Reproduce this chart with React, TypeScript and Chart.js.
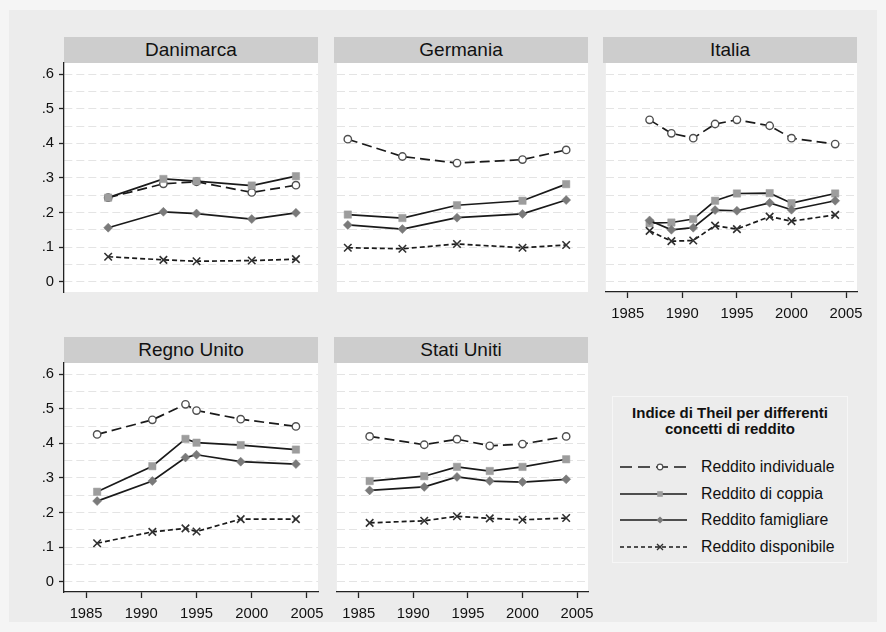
import React, { useEffect, useRef } from 'react';
import { Chart, registerables } from 'chart.js';

Chart.register(...registerables);

// ---- Axes shared by every panel ----
const xTicks = [1985, 1990, 1995, 2000, 2005];
const yTicks = [0, 0.1, 0.2, 0.3, 0.4, 0.5, 0.6];
const yTickLabels = ['0', '.1', '.2', '.3', '.4', '.5', '.6'];

const seriesNames = [
  'Reddito individuale',
  'Reddito di coppia',
  'Reddito famigliare',
  'Reddito disponibile',
];

// ---- Danimarca ----
const dkYears = [1987, 1992, 1995, 2000, 2004];
const dkIndividuale = [0.243, 0.283, 0.289, 0.258, 0.279];
const dkCoppia = [0.243, 0.297, 0.291, 0.278, 0.305];
const dkFamigliare = [0.156, 0.202, 0.197, 0.181, 0.199];
const dkDisponibile = [0.072, 0.063, 0.059, 0.061, 0.065];

// ---- Germania ----
const deYears = [1984, 1989, 1994, 2000, 2004];
const deIndividuale = [0.412, 0.362, 0.343, 0.353, 0.381];
const deCoppia = [0.194, 0.184, 0.221, 0.234, 0.282];
const deFamigliare = [0.164, 0.152, 0.185, 0.196, 0.236];
const deDisponibile = [0.098, 0.095, 0.109, 0.098, 0.106];

// ---- Italia ----
const itYears = [1987, 1989, 1991, 1993, 1995, 1998, 2000, 2004];
const itIndividuale = [0.468, 0.429, 0.415, 0.456, 0.468, 0.451, 0.415, 0.398];
const itCoppia = [0.169, 0.171, 0.181, 0.234, 0.255, 0.256, 0.227, 0.255];
const itFamigliare = [0.177, 0.15, 0.156, 0.207, 0.205, 0.228, 0.208, 0.234];
const itDisponibile = [0.147, 0.117, 0.119, 0.162, 0.152, 0.188, 0.175, 0.193];

// ---- Regno Unito ----
const ukYears = [1986, 1991, 1994, 1995, 1999, 2004];
const ukIndividuale = [0.426, 0.468, 0.513, 0.495, 0.47, 0.449];
const ukCoppia = [0.26, 0.334, 0.413, 0.402, 0.395, 0.382];
const ukFamigliare = [0.233, 0.291, 0.359, 0.367, 0.347, 0.34];
const ukDisponibile = [0.111, 0.144, 0.154, 0.145, 0.181, 0.181];

// ---- Stati Uniti ----
const usYears = [1986, 1991, 1994, 1997, 2000, 2004];
const usIndividuale = [0.42, 0.396, 0.412, 0.393, 0.398, 0.42];
const usCoppia = [0.291, 0.305, 0.332, 0.32, 0.332, 0.354];
const usFamigliare = [0.264, 0.274, 0.303, 0.291, 0.288, 0.296];
const usDisponibile = [0.17, 0.176, 0.189, 0.183, 0.179, 0.184];

// ---- Layout & style ----
const FONT = '"Liberation Sans", Arial, Helvetica, sans-serif';
const TEXT = '#111111';
const AXIS = '#222222';
const GRID = '#e4e4e4';
const LINE = '#1a1a1a';

const X_MIN = 1983;
const X_MAX = 2006;
const Y_MIN = -0.03;
const Y_MAX = 0.6325;

const PLOT_W = 254;
const PLOT_H = 229;
const STRIP_H = 26;
const Y_AXIS_W = 54;
const X_AXIS_H = 30;
const PAD_L = 4;
const PAD_T = 16;
const PAD_R = 20;
const PAD_B = 16;

// minor gridlines halfway between labelled ticks
const yGrid: number[] = [];
yTicks.forEach((v, i) => {
  yGrid.push(v);
  if (i < yTicks.length - 1) yGrid.push((v + yTicks[i + 1]) / 2);
});

const isLabelled = (v: number) => yTicks.some((t) => Math.abs(t - v) < 1e-6);
const yLabelFor = (v: number) => {
  const i = yTicks.findIndex((t) => Math.abs(t - v) < 1e-6);
  return i >= 0 ? yTickLabels[i] : '';
};

type SeriesStyle = {
  dash: number[];
  pointStyle: string;
  radius: number;
  fill: string;
  stroke: string;
  pointBorder: number;
};

const seriesStyles: SeriesStyle[] = [
  { dash: [10, 5], pointStyle: 'circle', radius: 3.7, fill: '#ffffff', stroke: '#505050', pointBorder: 1.4 },
  { dash: [], pointStyle: 'rect', radius: 5.2, fill: '#9d9d9d', stroke: '#9d9d9d', pointBorder: 0.5 },
  { dash: [], pointStyle: 'rectRot', radius: 4.5, fill: '#7a7a7a', stroke: '#7a7a7a', pointBorder: 0.5 },
  { dash: [5, 3], pointStyle: 'crossRot', radius: 5.3, fill: '#303030', stroke: '#303030', pointBorder: 1.6 },
];

type PanelSpec = {
  title: string;
  years: number[];
  series: number[][];
  left: number;
  stripTop: number;
  yAxis: boolean;
  xAxis: boolean;
};

const panels: PanelSpec[] = [
  { title: 'Danimarca', years: dkYears, series: [dkIndividuale, dkCoppia, dkFamigliare, dkDisponibile], left: 64, stripTop: 37, yAxis: true, xAxis: false },
  { title: 'Germania', years: deYears, series: [deIndividuale, deCoppia, deFamigliare, deDisponibile], left: 334, stripTop: 37, yAxis: false, xAxis: false },
  { title: 'Italia', years: itYears, series: [itIndividuale, itCoppia, itFamigliare, itDisponibile], left: 603, stripTop: 37, yAxis: false, xAxis: true },
  { title: 'Regno Unito', years: ukYears, series: [ukIndividuale, ukCoppia, ukFamigliare, ukDisponibile], left: 64, stripTop: 337, yAxis: true, xAxis: true },
  { title: 'Stati Uniti', years: usYears, series: [usIndividuale, usCoppia, usFamigliare, usDisponibile], left: 334, stripTop: 337, yAxis: false, xAxis: true },
];

// white plot region behind the gridlines
const plotBackground = {
  id: 'plotBackground',
  beforeDraw(chart: any) {
    const { ctx, chartArea: a } = chart;
    ctx.save();
    ctx.fillStyle = '#ffffff';
    ctx.fillRect(a.left, a.top, a.right - a.left, a.bottom - a.top);
    ctx.restore();
  },
};

function Panel({ spec }: { spec: PanelSpec }) {
  const ref = useRef<HTMLCanvasElement>(null);
  const yW = spec.yAxis ? Y_AXIS_W : 0;
  const w = PAD_L + yW + PLOT_W + PAD_R;
  const h = PAD_T + PLOT_H + (spec.xAxis ? X_AXIS_H : PAD_B);
  const plotTop = spec.stripTop + STRIP_H;
  const left = spec.left - yW - PAD_L;
  const top = plotTop - PAD_T;

  useEffect(() => {
    const canvas = ref.current;
    if (!canvas) return;
    const datasets = spec.series.map((vals, si) => {
      const st = seriesStyles[si];
      return {
        label: seriesNames[si],
        data: spec.years.map((yr, i) => ({ x: yr, y: vals[i] })),
        borderColor: LINE,
        borderWidth: 1.7,
        borderDash: st.dash,
        fill: false,
        tension: 0,
        pointStyle: st.pointStyle,
        pointRadius: st.radius,
        pointBackgroundColor: st.fill,
        pointBorderColor: st.stroke,
        pointBorderWidth: st.pointBorder,
        order: seriesNames.length - 1 - si,
      };
    });

    const chart = new Chart(canvas, {
      type: 'line',
      data: { datasets } as any,
      options: {
        responsive: false,
        maintainAspectRatio: false,
        animation: false,
        events: [],
        layout: {
          padding: { left: PAD_L, top: PAD_T, right: PAD_R, bottom: spec.xAxis ? 0 : PAD_B },
        },
        plugins: {
          legend: { display: false },
          tooltip: { enabled: false },
          title: { display: false },
        },
        scales: {
          x: {
            type: 'linear',
            min: X_MIN,
            max: X_MAX,
            display: spec.xAxis,
            afterBuildTicks: (s: any) => {
              s.ticks = xTicks.map((v) => ({ value: v }));
            },
            afterFit: (s: any) => {
              s.height = spec.xAxis ? X_AXIS_H : 0;
            },
            ticks: {
              autoSkip: false,
              maxRotation: 0,
              padding: 7,
              color: TEXT,
              font: { family: FONT, size: 14.8 },
              callback: (v: any) => String(v),
            },
            grid: {
              drawOnChartArea: false,
              drawTicks: true,
              tickLength: 6,
              tickColor: AXIS,
              tickWidth: 1.3,
            },
            border: { display: true, color: AXIS, width: 1.3 },
          },
          y: {
            type: 'linear',
            min: Y_MIN,
            max: Y_MAX,
            display: true,
            afterBuildTicks: (s: any) => {
              s.ticks = yGrid.map((v) => ({ value: v }));
            },
            afterFit: (s: any) => {
              s.width = yW;
            },
            ticks: {
              display: spec.yAxis,
              autoSkip: false,
              padding: 5,
              color: TEXT,
              font: { family: FONT, size: 14.8 },
              callback: (v: any) => yLabelFor(Number(v)),
            },
            grid: {
              display: true,
              drawOnChartArea: true,
              drawTicks: spec.yAxis,
              tickLength: 5,
              color: GRID,
              lineWidth: 1,
              tickColor: (ctx: any) =>
                ctx.tick && isLabelled(ctx.tick.value) ? AXIS : 'rgba(0,0,0,0)',
              tickWidth: 1.3,
            },
            border: { display: spec.yAxis, color: AXIS, width: 1.3, dash: [8, 4] },
          },
        },
      } as any,
      plugins: [plotBackground],
    });
    return () => chart.destroy();
  }, [spec]);

  return (
    <>
      <div
        style={{
          position: 'absolute',
          left: spec.left,
          top: spec.stripTop,
          width: PLOT_W,
          height: STRIP_H,
          background: '#cdcdcd',
          color: TEXT,
          font: `19px ${FONT}`,
          lineHeight: `${STRIP_H}px`,
          textAlign: 'center',
          whiteSpace: 'nowrap',
        }}
      >
        {spec.title}
      </div>
      <canvas
        ref={ref}
        width={w}
        height={h}
        style={{ position: 'absolute', left, top, width: w, height: h }}
      />
    </>
  );
}

function LegendSample({ index }: { index: number }) {
  const st = seriesStyles[index];
  const cy = 13;
  const cx = 40;
  let marker: React.ReactNode = null;
  if (st.pointStyle === 'circle') {
    marker = <circle cx={cx} cy={cy} r={2.8} fill="#ffffff" stroke={st.stroke} strokeWidth={1.2} />;
  } else if (st.pointStyle === 'rect') {
    marker = <rect x={cx - 2.8} y={cy - 2.8} width={5.6} height={5.6} fill={st.fill} />;
  } else if (st.pointStyle === 'rectRot') {
    marker = (
      <polygon
        points={`${cx - 3.6},${cy} ${cx},${cy - 3.6} ${cx + 3.6},${cy} ${cx},${cy + 3.6}`}
        fill={st.fill}
      />
    );
  } else {
    marker = (
      <path
        d={`M${cx - 3},${cy - 3}L${cx + 3},${cy + 3}M${cx + 3},${cy - 3}L${cx - 3},${cy + 3}`}
        stroke={st.stroke}
        strokeWidth={1.4}
      />
    );
  }
  const dash = index === 0 ? '12 6' : index === 3 ? '4 3' : undefined;
  return (
    <svg width={80} height={26} style={{ position: 'absolute', left: 7, top: 0 }}>
      <line x1={0} y1={cy} x2={67} y2={cy} stroke={LINE} strokeWidth={1.5} strokeDasharray={dash} />
      {marker}
    </svg>
  );
}

function Legend() {
  const rowCenters = [70, 96.5, 123, 149.5];
  return (
    <div
      style={{
        position: 'absolute',
        left: 612,
        top: 396,
        width: 236,
        height: 167,
        boxSizing: 'border-box',
        border: '1px solid #f6f6f6',
        color: TEXT,
        fontFamily: FONT,
      }}
    >
      <div
        style={{
          position: 'absolute',
          left: 0,
          right: 0,
          top: 8,
          textAlign: 'center',
          fontWeight: 'bold',
          fontSize: 15,
          lineHeight: '16px',
        }}
      >
        Indice di Theil per differenti
        <br />
        concetti di reddito
      </div>
      {seriesNames.map((name, i) => (
        <div
          key={name}
          style={{ position: 'absolute', left: 0, top: rowCenters[i] - 13, width: 234, height: 26 }}
        >
          <LegendSample index={i} />
          <div
            style={{
              position: 'absolute',
              left: 88,
              top: 0,
              fontSize: 15.8,
              lineHeight: '26px',
              whiteSpace: 'nowrap',
            }}
          >
            {name}
          </div>
        </div>
      ))}
    </div>
  );
}

export default function App() {
  return (
    <div
      style={{
        position: 'absolute',
        left: 0,
        top: 0,
        width: 886,
        height: 632,
        overflow: 'hidden',
        background: '#f5f5f5',
      }}
    >
      <div
        style={{
          position: 'absolute',
          left: 9,
          top: 10,
          width: 868,
          height: 612,
          background: '#ececec',
        }}
      />
      {panels.map((p) => (
        <Panel key={p.title} spec={p} />
      ))}
      <Legend />
    </div>
  );
}
